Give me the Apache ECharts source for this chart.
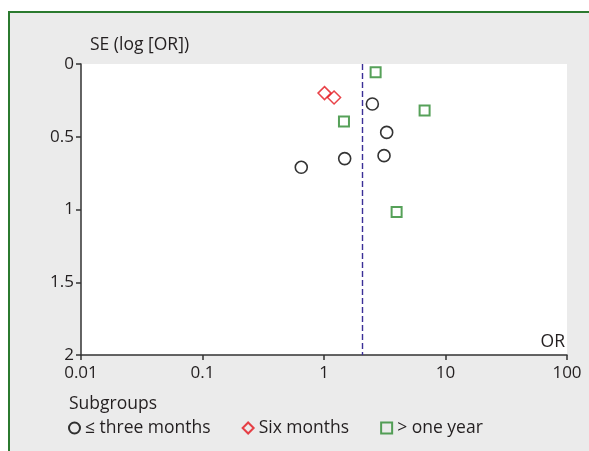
<!DOCTYPE html>
<html>
<head>
<meta charset="utf-8">
<script src="https://cdn.jsdelivr.net/npm/echarts@6/dist/echarts.min.js"></script>
<style>
  html, body { margin: 0; padding: 0; background: #ffffff; }
  #panel { position: absolute; left: 8px; top: 11px; width: 581px; height: 440px;
           background: #ebebeb; border-left: 2px solid #2b7a2f; border-top: 2px solid #2b7a2f; box-sizing: border-box; }
  #chart { position: absolute; left: 0; top: 0; width: 589px; height: 451px; }
</style>
</head>
<body>
<div id="panel"></div>
<div id="chart"></div>
<script>
// Funnel plot: odds ratio (log scale) against standard error of log OR
const xTickLabels = ['0.01', '0.1', '1', '10', '100'];
const yTickLabels = ['0', '0.5', '1', '1.5', '2'];
const pooledOR = 2.05;

const threeMonthsOR = [2.50, 3.28, 3.12, 1.48, 0.65];
const threeMonthsSE = [0.275, 0.47, 0.63, 0.65, 0.71];

const sixMonthsOR = [1.01, 1.21];
const sixMonthsSE = [0.20, 0.23];

const oneYearOR = [2.66, 6.73, 1.46, 3.96];
const oneYearSE = [0.057, 0.32, 0.396, 1.017];

const groupNames = ['≤ three months', 'Six months', '> one year'];

const pairs = (xs, ys) => xs.map((x, i) => [x, ys[i]]);
const FONT = '"Open Sans", sans-serif';
const INK = '#231f20';
const textSize = 17.5;
const tickSize = 17;

const chart = echarts.init(document.getElementById('chart'), null, { renderer: 'canvas' });
chart.setOption({
  backgroundColor: 'transparent',
  animation: false,
  textStyle: { fontFamily: FONT, color: INK },
  title: [
    { text: 'SE (log [OR])', left: 85, top: 31,
      textStyle: { fontFamily: FONT, fontSize: textSize, fontWeight: 'normal', color: INK } },
    { text: 'OR', right: 19, top: 328,
      textStyle: { fontFamily: FONT, fontSize: textSize, fontWeight: 'normal', color: INK } },
    { text: 'Subgroups', left: 64, top: 390,
      textStyle: { fontFamily: FONT, fontSize: textSize, fontWeight: 'normal', color: INK } }
  ],
  legend: {
    left: 63, top: 414,
    itemWidth: 11, itemHeight: 11, itemGap: 31,
    textStyle: { fontFamily: FONT, fontSize: textSize, color: INK },
    data: groupNames
  },
  grid: {
    left: 81, right: 22, top: 64, bottom: 96,
    show: true, backgroundColor: '#ffffff', borderWidth: 0,
    containLabel: false
  },
  xAxis: {
    type: 'log', logBase: 10, min: 0.01, max: 100,
    axisLine: { show: true, onZero: false, lineStyle: { color: '#333333', width: 1.5 } },
    axisTick: { show: true, length: 5, lineStyle: { color: '#333333', width: 1.5 } },
    minorTick: { show: false },
    splitLine: { show: false },
    axisLabel: {
      fontFamily: FONT, fontSize: tickSize, color: INK, margin: 10,
      formatter: v => xTickLabels[Math.round(Math.log10(v)) + 2]
    }
  },
  yAxis: {
    type: 'value', inverse: true, min: 0, max: 2, interval: 0.5,
    axisLine: { show: true, lineStyle: { color: '#333333', width: 1.5 } },
    axisTick: { show: true, length: 5, lineStyle: { color: '#333333', width: 1.5 } },
    splitLine: { show: false },
    axisLabel: {
      fontFamily: FONT, fontSize: tickSize, color: INK, margin: 7,
      formatter: v => yTickLabels[Math.round(v * 2)]
    }
  },
  series: [
    {
      name: groupNames[0], type: 'scatter', symbol: 'circle', symbolSize: 12,
      itemStyle: { color: 'transparent', borderColor: '#000000', borderWidth: 1.6 },
      data: pairs(threeMonthsOR, threeMonthsSE),
      markLine: {
        silent: true, symbol: 'none', label: { show: false },
        lineStyle: { color: '#3b2f97', type: [6, 3], width: 1.4 },
        data: [{ xAxis: pooledOR }]
      }
    },
    {
      name: groupNames[1], type: 'scatter', symbol: 'diamond', symbolSize: [13, 13],
      itemStyle: { color: 'transparent', borderColor: '#e3141b', borderWidth: 1.5 },
      data: pairs(sixMonthsOR, sixMonthsSE)
    },
    {
      name: groupNames[2], type: 'scatter', symbol: 'rect', symbolSize: 10,
      itemStyle: { color: 'transparent', borderColor: '#2c8a30', borderWidth: 2 },
      data: pairs(oneYearOR, oneYearSE)
    }
  ]
});
</script>
</body>
</html>
